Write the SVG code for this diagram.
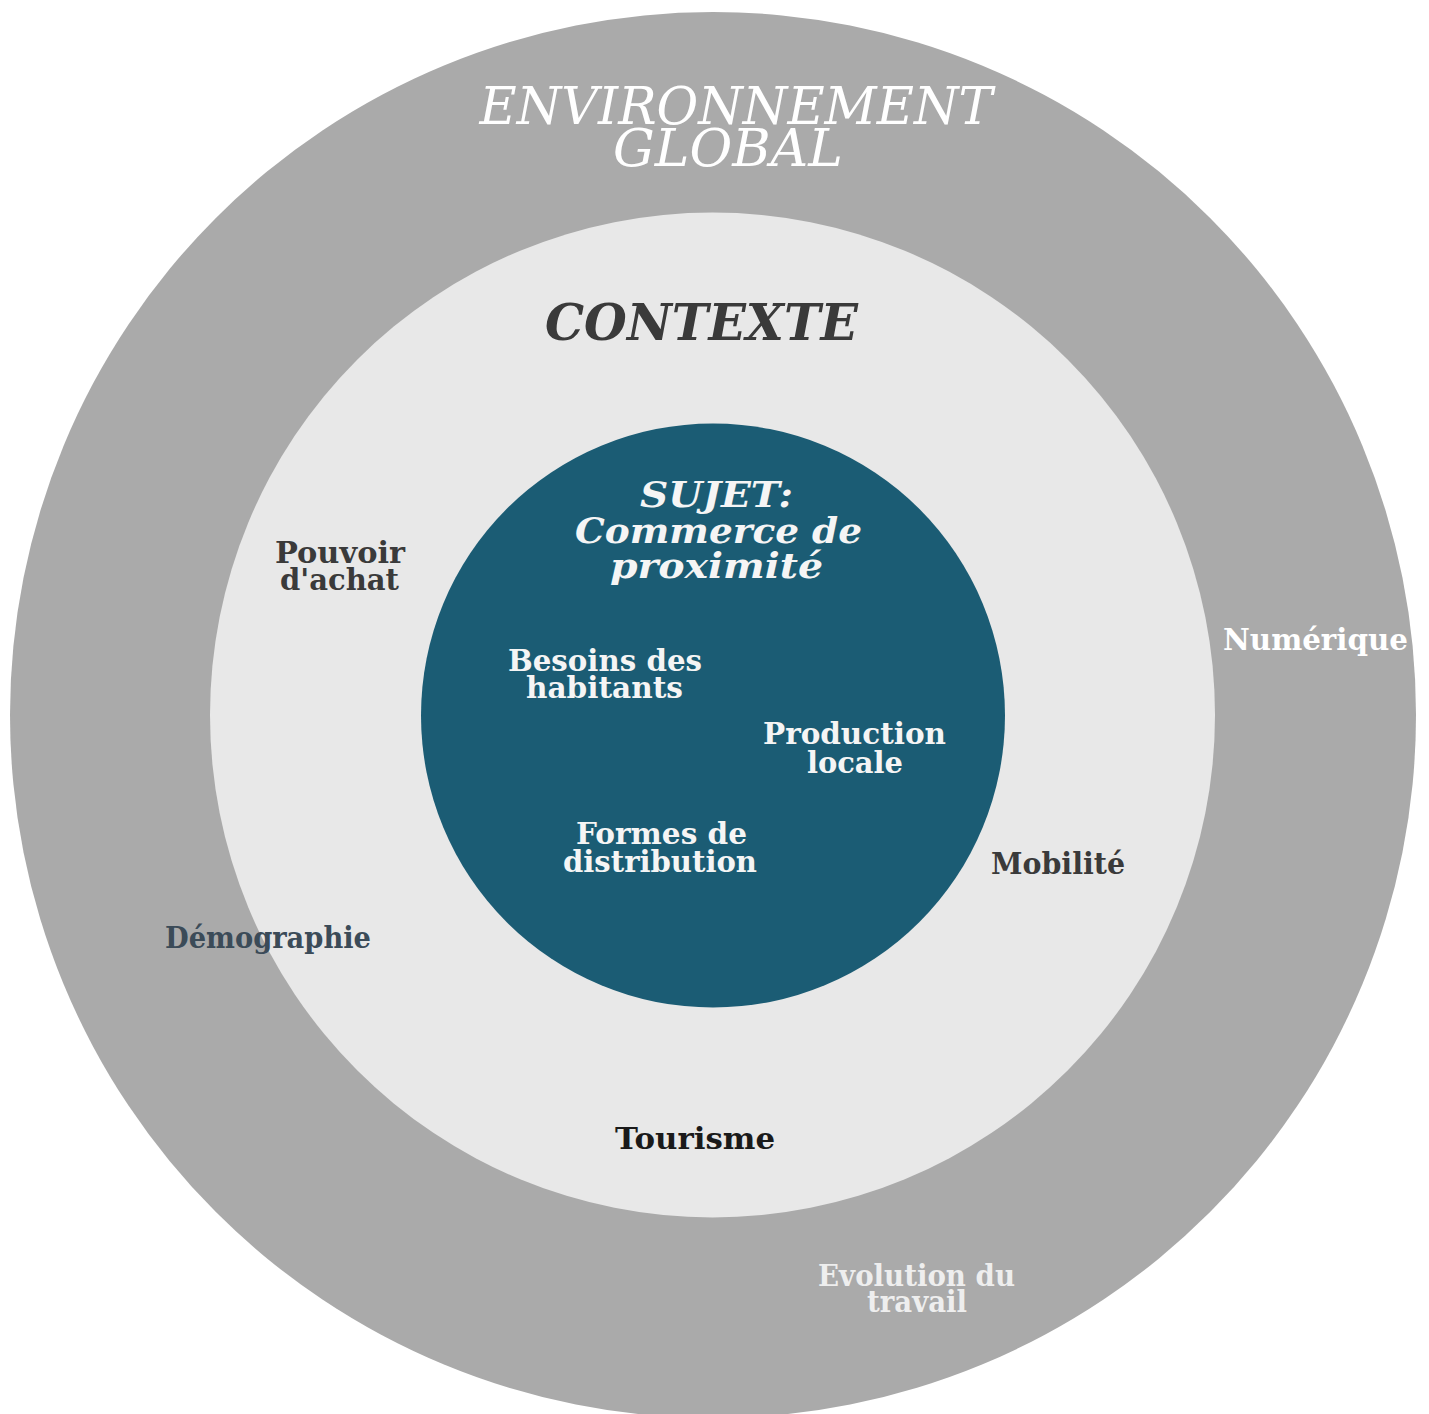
<svg xmlns="http://www.w3.org/2000/svg" width="1429" height="1414" viewBox="0 0 1429 1414">
<style>
text{font-family:"DejaVu Serif","Liberation Serif",serif;text-anchor:middle}
.title{font-style:italic}
.lbl{font-weight:bold;font-size:30px}
</style>
<rect width="1429" height="1414" fill="#ffffff"/>
<g id="environnement">
<circle cx="713" cy="715" r="703" fill="#aaaaaa"/>
<text class="title" font-size="52" fill="#ffffff" x="736" y="124" textLength="513" lengthAdjust="spacingAndGlyphs">ENVIRONNEMENT</text>
<text class="title" font-size="52" fill="#ffffff" x="728" y="166" textLength="230" lengthAdjust="spacingAndGlyphs">GLOBAL</text>
</g>
<g id="contexte">
<circle cx="712.5" cy="715" r="502.5" fill="#e8e8e8"/>
<text class="title" font-weight="bold" font-size="50" fill="#3a3a3a" x="701.5" y="340" textLength="313" lengthAdjust="spacingAndGlyphs">CONTEXTE</text>
</g>
<g id="sujet">
<circle cx="713" cy="715.5" r="292" fill="#1b5c74"/>
<text class="title" font-weight="bold" font-size="36" fill="#f5f5f5" x="716.5" y="507" textLength="153" lengthAdjust="spacingAndGlyphs">SUJET:</text>
<text class="title" font-weight="bold" font-size="36" fill="#f5f5f5" x="718.5" y="543" textLength="287" lengthAdjust="spacingAndGlyphs">Commerce de</text>
<text class="title" font-weight="bold" font-size="36" fill="#f5f5f5" x="716.5" y="578" textLength="213" lengthAdjust="spacingAndGlyphs">proximité</text>
</g>
<g id="besoins">
<text class="lbl" fill="#f5f5f5" x="605" y="671" textLength="194" lengthAdjust="spacingAndGlyphs">Besoins des</text>
<text class="lbl" fill="#f5f5f5" x="604.5" y="698" textLength="157" lengthAdjust="spacingAndGlyphs">habitants</text>
</g>
<g id="production">
<text class="lbl" fill="#f5f5f5" x="854.5" y="744" textLength="183" lengthAdjust="spacingAndGlyphs">Production</text>
<text class="lbl" fill="#f5f5f5" x="855" y="773" textLength="96" lengthAdjust="spacingAndGlyphs">locale</text>
</g>
<g id="formes">
<text class="lbl" fill="#f5f5f5" x="661.5" y="844" textLength="171" lengthAdjust="spacingAndGlyphs">Formes de</text>
<text class="lbl" fill="#f5f5f5" x="660" y="872" textLength="194" lengthAdjust="spacingAndGlyphs">distribution</text>
</g>
<g id="pouvoir">
<text class="lbl" fill="#3a3a3a" x="340" y="563" textLength="130" lengthAdjust="spacingAndGlyphs">Pouvoir</text>
<text class="lbl" fill="#3a3a3a" x="339.5" y="590" textLength="119" lengthAdjust="spacingAndGlyphs">d'achat</text>
</g>
<g id="demographie">
<text class="lbl" font-size="28" fill="#3b4b58" x="268" y="948" textLength="206" lengthAdjust="spacingAndGlyphs">Démographie</text>
</g>
<g id="numerique">
<text class="lbl" fill="#ffffff" x="1315.5" y="650" textLength="185" lengthAdjust="spacingAndGlyphs">Numérique</text>
</g>
<g id="mobilite">
<text class="lbl" fill="#3a3a3a" x="1058" y="874" textLength="134" lengthAdjust="spacingAndGlyphs">Mobilité</text>
</g>
<g id="tourisme">
<text class="lbl" font-size="31" fill="#1a1a1a" x="695" y="1149" textLength="160" lengthAdjust="spacingAndGlyphs">Tourisme</text>
</g>
<g id="evolution">
<text class="lbl" font-size="28" fill="#eeeeee" x="916.5" y="1286" textLength="197" lengthAdjust="spacingAndGlyphs">Evolution du</text>
<text class="lbl" font-size="28" fill="#eeeeee" x="917" y="1312" textLength="100" lengthAdjust="spacingAndGlyphs">travail</text>
</g>
<g id="connectors"></g>
</svg>
